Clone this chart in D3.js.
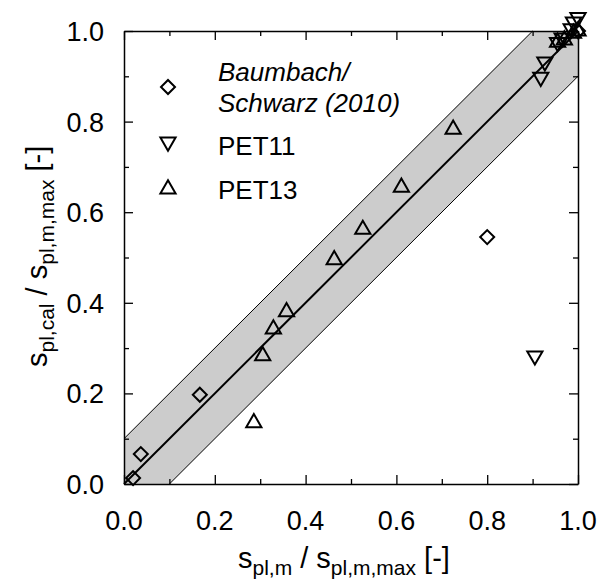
<!DOCTYPE html>
<html>
<head>
<meta charset="utf-8">
<script src="https://cdn.jsdelivr.net/npm/d3@7"></script>
<style>
  body { margin: 0; background: #fff; }
  text { font-family: "Liberation Sans", Arial, sans-serif; fill: #000; }
</style>
</head>
<body>
<div id="graph-container"></div>
<script>
// Baumbach/Schwarz (2010) - diamonds
const baumX = [0.02, 0.037, 0.167, 0.80, 1.0];
const baumY = [0.013, 0.066, 0.197, 0.545, 1.0];
// PET11 - down triangles
const pet11X = [0.905, 0.918, 0.927, 0.955, 0.965, 0.985, 0.99, 1.0];
const pet11Y = [0.283, 0.898, 0.932, 0.975, 0.985, 1.005, 1.02, 1.03];
// PET13 - up triangles
const pet13X = [0.286, 0.3055, 0.329, 0.358, 0.463, 0.526, 0.611, 0.725, 0.955, 0.97, 0.99, 1.0];
const pet13Y = [0.135, 0.283, 0.342, 0.38, 0.495, 0.562, 0.655, 0.783, 0.975, 0.98, 0.995, 1.0];
const tickValues = [0, 0.2, 0.4, 0.6, 0.8, 1.0];
const minorTicks = [0.1, 0.3, 0.5, 0.7, 0.9];
const bandWidth = 0.1;

document.addEventListener("DOMContentLoaded", function () {
	builder();
});

function builder() {
	const w = 601;
	const h = 583;
	const left = 124, right = 578, top = 31, bottom = 484;

	const svg = d3.select("#graph-container")
		.append("svg")
		.attr("width", w)
		.attr("height", h);

	const x = d3.scaleLinear().domain([0, 1]).range([left, right]);
	const y = d3.scaleLinear().domain([0, 1]).range([bottom, top]);

	// tolerance band +/- 0.1
	const band = [[0, 0], [0, bandWidth], [1 - bandWidth, 1], [1, 1], [1, 1 - bandWidth], [bandWidth, 0]];
	svg.append("path")
		.attr("d", d3.line().x(d => x(d[0])).y(d => y(d[1]))(band) + "Z")
		.attr("fill", "#cccccc");
	const edges = [
		[[0, bandWidth], [1 - bandWidth, 1]],
		[[bandWidth, 0], [1, 1 - bandWidth]]
	];
	edges.forEach(e => {
		svg.append("line")
			.attr("x1", x(e[0][0])).attr("y1", y(e[0][1]))
			.attr("x2", x(e[1][0])).attr("y2", y(e[1][1]))
			.attr("stroke", "#000").attr("stroke-width", 1);
	});
	// 1:1 line
	svg.append("line")
		.attr("x1", x(0)).attr("y1", y(0))
		.attr("x2", x(1)).attr("y2", y(1))
		.attr("stroke", "#000").attr("stroke-width", 2);

	// axes: ticks inside on all four sides
	const major = 9, minor = 5;
	const axisStyle = g => {
		g.select(".domain").attr("stroke", "#000").attr("stroke-width", 1.5);
		g.selectAll(".tick line").attr("stroke", "#000").attr("stroke-width", 1.3);
		g.selectAll("text").remove();
	};
	const all = tickValues.concat(minorTicks);
	const sizeOf = d => (minorTicks.includes(d) ? minor : major);

	function addAxis(axisFn, scale, tr) {
		const g = svg.append("g").attr("transform", tr)
			.call(axisFn(scale).tickValues(all).tickSizeOuter(0).tickFormat(""));
		return g;
	}
	const gb = addAxis(d3.axisTop, x, `translate(0,${bottom})`);
	const gt = addAxis(d3.axisBottom, x, `translate(0,${top})`);
	const gl = addAxis(d3.axisRight, y, `translate(${left},0)`);
	const gr = addAxis(d3.axisLeft, y, `translate(${right},0)`);
	[gb, gt, gl, gr].forEach(g => {
		axisStyle(g);
	});
	gb.selectAll(".tick line").attr("y2", d => -sizeOf(d));
	gt.selectAll(".tick line").attr("y2", d => sizeOf(d));
	gl.selectAll(".tick line").attr("x2", d => sizeOf(d));
	gr.selectAll(".tick line").attr("x2", d => -sizeOf(d));

	// tick labels
	const fmt = d3.format(".1f");
	svg.append("g").selectAll("text")
		.data(tickValues).enter().append("text")
		.attr("x", d => x(d)).attr("y", bottom + 46)
		.attr("text-anchor", "middle")
		.attr("font-size", 27)
		.text(fmt);
	svg.append("g").selectAll("text")
		.data(tickValues).enter().append("text")
		.attr("x", left - 20).attr("y", d => y(d) + 10)
		.attr("text-anchor", "end")
		.attr("font-size", 27)
		.text(fmt);

	// axis titles
	const xl = svg.append("text")
		.attr("x", 238).attr("y", 568)
		.attr("font-size", 29);
	xl.append("tspan").text("s");
	xl.append("tspan").attr("font-size", 21).attr("dy", 7).text("pl,m");
	xl.append("tspan").attr("dy", -7).text(" / s");
	xl.append("tspan").attr("font-size", 21).attr("dy", 7).text("pl,m,max");
	xl.append("tspan").attr("dy", -7).text(" [-]");

	const yl = svg.append("text")
		.attr("transform", `translate(47,367) rotate(-90)`)
		.attr("font-size", 29);
	yl.append("tspan").text("s");
	yl.append("tspan").attr("font-size", 21).attr("dy", 7).text("pl,cal");
	yl.append("tspan").attr("dy", -7).text(" / s");
	yl.append("tspan").attr("font-size", 21).attr("dy", 7).text("pl,m,max");
	yl.append("tspan").attr("dy", -7).text(" [-]");

	// markers
	const diamond = d3.symbol().type(d3.symbolSquare).size(98);
	const tri = d3.symbol().type(d3.symbolTriangle).size(100);

	function drawSeries(xs, ys, sym, rot) {
		svg.append("g").selectAll("path")
			.data(xs.map((d, i) => [d, ys[i]]))
			.enter().append("path")
			.attr("d", sym())
			.attr("transform", d => `translate(${x(d[0])},${y(d[1])}) rotate(${rot})`)
			.attr("fill", "none")
			.attr("stroke", "#000")
			.attr("stroke-width", 2);
	}
	drawSeries(baumX, baumY, diamond, 45);
	drawSeries(pet11X, pet11Y, tri, 180);
	drawSeries(pet13X, pet13Y, tri, 0);

	// legend
	const lg = svg.append("g");
	const legendItems = [
		{ sym: diamond, rot: 45, y: 87, base: 81, lines: ["Baumbach/", "Schwarz (2010)"], italic: true },
		{ sym: tri, rot: 180, y: 142, base: 155, lines: ["PET11"], italic: false },
		{ sym: tri, rot: 0, y: 189, base: 199, lines: ["PET13"], italic: false }
	];
	legendItems.forEach(it => {
		lg.append("path")
			.attr("d", it.sym())
			.attr("transform", `translate(168,${it.y}) rotate(${it.rot})`)
			.attr("fill", "none").attr("stroke", "#000").attr("stroke-width", 2);
		const t = lg.append("text")
			.attr("x", 218)
			.attr("y", it.base)
			.attr("font-size", 26)
			.attr("font-style", it.italic ? "italic" : "normal");
		it.lines.forEach((l, i) => {
			t.append("tspan").attr("x", 218).attr("dy", i === 0 ? 0 : 31).text(l);
		});
	});
}
</script>
</body>
</html>
